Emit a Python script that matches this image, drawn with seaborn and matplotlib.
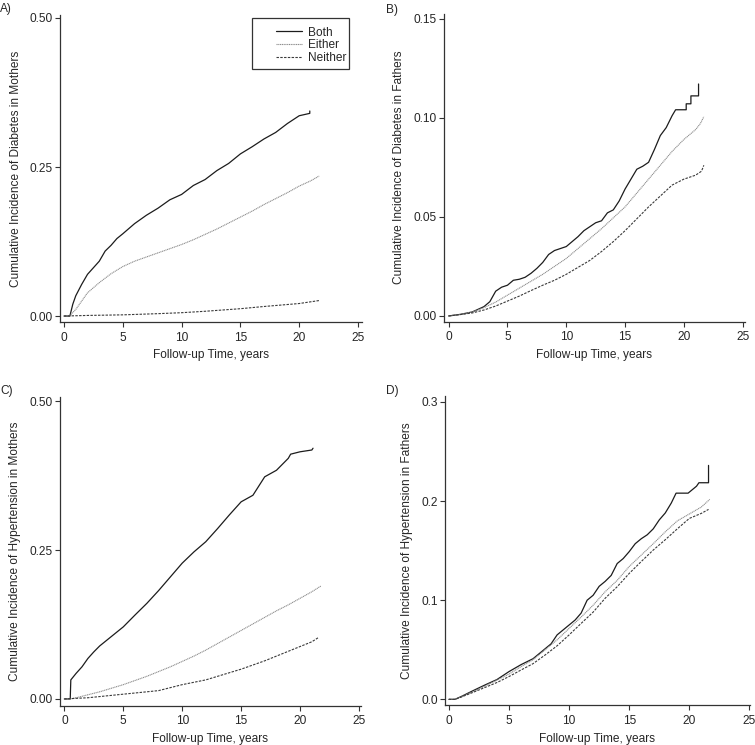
import pandas as pd
import seaborn as sns
from matplotlib import pyplot as plt
from matplotlib.patches import Rectangle
from matplotlib.ticker import FormatStrFormatter

sns.set_style('ticks')
plt.rcParams['font.family'] = ['Liberation Sans', 'DejaVu Sans']

# ---- data (years, cumulative incidence) ----
# A) diabetes, mothers
a_both_t = [0, 0.5, 0.75, 1, 1.5, 2, 2.5, 3, 3.5, 4, 4.5, 5, 6, 7, 8, 9, 10, 11, 12, 13, 14, 15,
            16, 17, 18, 19, 20, 20.9, 20.9]
a_both_y = [0, 0, 0.02, 0.034, 0.053, 0.07, 0.081, 0.092, 0.109, 0.1186, 0.13, 0.138, 0.155,
            0.169, 0.181, 0.195, 0.204, 0.219, 0.229, 0.244, 0.256, 0.272, 0.284, 0.297, 0.308,
            0.323, 0.336, 0.340, 0.344]
a_either_t = [0, 0.5, 1, 1.5, 2, 3, 4, 5, 6, 7, 8, 9, 10, 11, 12, 13, 14, 15, 16, 17, 18, 19, 20,
              21, 21.7]
a_either_y = [0, 0.001, 0.011, 0.025, 0.039, 0.056, 0.071, 0.083, 0.092, 0.099, 0.106, 0.113,
              0.12, 0.128, 0.137, 0.146, 0.156, 0.166, 0.176, 0.187, 0.197, 0.207, 0.218, 0.227,
              0.235]
a_neither_t = [0, 2, 5, 8, 10, 12, 15, 17, 20, 21.7]
a_neither_y = [0, 0.001, 0.002, 0.004, 0.0056, 0.008, 0.0123, 0.016, 0.021, 0.026]

# B) diabetes, fathers
b_both_t = [0, 1, 2, 3, 3.5, 4, 4.5, 5, 5.5, 6, 6.5, 7, 7.5, 8, 8.5, 9, 9.5, 10, 10.5, 11, 11.5,
            12, 12.5, 13, 13.5, 14, 14.5, 15, 15.5, 16, 16.5, 17, 17.5, 18, 18.5, 19, 19.3,
            20.2, 20.2, 20.6, 20.6, 21.25, 21.25]
b_both_y = [0, 0.0008, 0.002, 0.0047, 0.0072, 0.0125, 0.0145, 0.0155, 0.018, 0.0185, 0.0195,
            0.0215, 0.024, 0.027, 0.031, 0.033, 0.034, 0.035, 0.0375, 0.040, 0.043, 0.045,
            0.047, 0.048, 0.052, 0.0535, 0.058, 0.064, 0.069, 0.074, 0.0755, 0.0775, 0.084,
            0.091, 0.095, 0.101, 0.104, 0.104, 0.107, 0.107, 0.111, 0.111, 0.117]
b_either_t = [0, 1, 2, 3, 4, 5, 6, 7, 8, 9, 10, 11, 12, 13, 14, 15, 16, 17, 18, 19, 20, 21,
              21.4, 21.7]
b_either_y = [0, 0.0008, 0.002, 0.0042, 0.007, 0.0105, 0.014, 0.0175, 0.021, 0.025, 0.029,
              0.034, 0.039, 0.044, 0.0495, 0.055, 0.062, 0.069, 0.076, 0.083, 0.089, 0.094,
              0.097, 0.1005]
b_neither_t = [0, 1, 2, 3, 4, 5, 6, 7, 8, 9, 10, 11, 12, 13, 14, 15, 16, 17, 18, 19, 20, 21,
               21.5, 21.7]
b_neither_y = [0, 0.0007, 0.0015, 0.003, 0.005, 0.0075, 0.010, 0.0128, 0.0155, 0.018, 0.021,
               0.0245, 0.028, 0.0325, 0.0375, 0.043, 0.049, 0.055, 0.0605, 0.066, 0.069, 0.071,
               0.073, 0.076]

# C) hypertension, mothers
c_both_t = [0, 0.5, 0.55, 1, 1.5, 2, 2.5, 3, 4, 5, 6, 7, 8, 9, 10, 11, 12, 13, 14, 15, 16, 17,
            18, 18.5, 19, 19.2, 20, 21, 21.1]
c_both_y = [0, 0, 0.032, 0.043, 0.054, 0.068, 0.079, 0.089, 0.105, 0.121, 0.141, 0.1605, 0.182,
            0.205, 0.228, 0.247, 0.264, 0.286, 0.309, 0.331, 0.342, 0.373, 0.384, 0.394, 0.404,
            0.411, 0.415, 0.418, 0.421]
c_either_t = [0, 0.5, 1, 2, 3, 4, 5, 6, 7, 8, 9, 10, 11, 12, 13, 14, 15, 16, 17, 18, 19, 20, 21,
              21.8]
c_either_y = [0, 0, 0.002, 0.007, 0.012, 0.018, 0.024, 0.031, 0.038, 0.046, 0.054, 0.063, 0.072,
              0.082, 0.093, 0.104, 0.115, 0.126, 0.137, 0.148, 0.158, 0.169, 0.180, 0.190]
c_neither_t = [0, 1, 2, 3, 4, 5, 6, 7, 8, 9, 10, 11, 12, 13, 14, 15, 16, 17, 18, 19, 20, 21,
               21.55]
c_neither_y = [0, 0.001, 0.002, 0.004, 0.006, 0.008, 0.010, 0.012, 0.014, 0.019, 0.024, 0.028,
               0.032, 0.038, 0.044, 0.050, 0.057, 0.064, 0.072, 0.080, 0.088, 0.096, 0.103]

# D) hypertension, fathers
d_both_t = [0, 0.5, 1, 2, 3, 4, 5, 6, 7, 8, 8.5, 9, 9.5, 10, 10.5, 11, 11.5, 12, 12.5, 13, 13.5,
            14, 14.5, 15, 15.5, 16, 16.5, 17, 17.5, 18, 18.5, 18.9, 19.9, 20.3, 20.6, 20.8,
            21.6, 21.6]
d_both_y = [0, 0, 0.0027, 0.0087, 0.0145, 0.020, 0.028, 0.035, 0.041, 0.051, 0.056, 0.065,
            0.070, 0.075, 0.080, 0.087, 0.100, 0.105, 0.114, 0.119, 0.125, 0.137, 0.142, 0.149,
            0.157, 0.162, 0.166, 0.172, 0.181, 0.188, 0.198, 0.208, 0.208, 0.212, 0.215,
            0.2185, 0.2185, 0.236]
d_either_t = [0, 0.5, 1, 2, 3, 4, 5, 6, 7, 8, 9, 10, 11, 12, 13, 14, 15, 16, 17, 18, 19, 20, 21,
              21.7]
d_either_y = [0, 0, 0.0025, 0.0077, 0.0134, 0.0195, 0.0255, 0.033, 0.040, 0.050, 0.060, 0.0716,
              0.083, 0.095, 0.1086, 0.120, 0.134, 0.1455, 0.157, 0.169, 0.180, 0.187, 0.194,
              0.2017]
d_neither_t = [0, 0.5, 1, 2, 3, 4, 5, 6, 7, 8, 9, 10, 11, 12, 13, 14, 15, 16, 17, 18, 19, 20,
               21, 21.6]
d_neither_y = [0, 0, 0.0022, 0.007, 0.012, 0.017, 0.023, 0.0296, 0.036, 0.0447, 0.054, 0.065,
               0.0766, 0.088, 0.102, 0.1136, 0.127, 0.139, 0.1506, 0.161, 0.172, 0.1825, 0.1876,
               0.1916]

groups = ['Both', 'Either', 'Neither']
styles = {
    'Both': dict(color='#1c1c1c', linestyle='-', linewidth=0.9),
    'Either': dict(color='#8a8a8a', linestyle=(0, (1, 0.6)), linewidth=0.8),
    'Neither': dict(color='#3a3a3a', linestyle=(0, (2.2, 1.2)), linewidth=0.8),
}

panels = [
    dict(tag='A)', ylabel='Cumulative Incidence of Diabetes in Mothers',
         series=[(a_both_t, a_both_y), (a_either_t, a_either_y), (a_neither_t, a_neither_y)],
         yticks=[0, 0.25, 0.5], fmt='%.2f', px=(60, 15, 362, 322),
         xlim=(-0.34, 25.34), ylim=(-0.010, 0.505), tagpos=(0, 3)),
    dict(tag='B)', ylabel='Cumulative Incidence of Diabetes in Fathers',
         series=[(b_both_t, b_both_y), (b_either_t, b_either_y), (b_neither_t, b_neither_y)],
         yticks=[0, 0.05, 0.10, 0.15], fmt='%.2f', px=(443.5, 14, 745, 321.5),
         xlim=(-0.44, 25.2), ylim=(-0.0028, 0.1523), tagpos=(386, 3.5)),
    dict(tag='C)', ylabel='Cumulative Incidence of Hypertension in Mothers',
         series=[(c_both_t, c_both_y), (c_either_t, c_either_y), (c_neither_t, c_neither_y)],
         yticks=[0, 0.25, 0.5], fmt='%.2f', px=(59.5, 397, 361, 705.5),
         xlim=(-0.41, 25.17), ylim=(-0.011, 0.507), tagpos=(0, 385)),
    dict(tag='D)', ylabel='Cumulative Incidence of Hypertension in Fathers',
         series=[(d_both_t, d_both_y), (d_either_t, d_either_y), (d_neither_t, d_neither_y)],
         yticks=[0, 0.1, 0.2, 0.3], fmt='%.1f', px=(444.7, 396, 750, 705.3),
         xlim=(-0.35, 25.05), ylim=(-0.006, 0.306), tagpos=(386, 384.5)),
]

W, H = 755, 745
fig = plt.figure(figsize=(W / 100, H / 100), dpi=100)
fs = 8.6
spine_col = '#333333'

for i, p in enumerate(panels):
    x0, y0, x1, y1 = p['px']
    ax = fig.add_axes([x0 / W, 1 - y1 / H, (x1 - x0) / W, (y1 - y0) / H])
    for g, (t, y) in zip(groups, p['series']):
        df = pd.DataFrame({'time': t, 'inc': y})
        sns.lineplot(data=df, x='time', y='inc', ax=ax, estimator=None, sort=False,
                     label=g, **styles[g])
    ax.set_xlim(*p['xlim'])
    ax.set_ylim(*p['ylim'])
    ax.set_xticks([0, 5, 10, 15, 20, 25])
    ax.set_yticks(p['yticks'])
    ax.yaxis.set_major_formatter(FormatStrFormatter(p['fmt']))
    ax.set_xlabel('Follow-up Time, years', fontsize=fs, labelpad=4)
    ax.set_ylabel(p['ylabel'], fontsize=fs, labelpad=6)
    ax.tick_params(axis='both', labelsize=fs, length=3.5, width=0.8, color=spine_col)
    ax.tick_params(axis='x', pad=3.5)
    ax.tick_params(axis='y', pad=1.5)
    sns.despine(ax=ax)
    for s in ('left', 'bottom'):
        ax.spines[s].set_color(spine_col)
        ax.spines[s].set_linewidth(0.9)
    fig.text(p['tagpos'][0] / W, 1 - p['tagpos'][1] / H, p['tag'], fontsize=fs,
             ha='left', va='top')
    if i == 0:
        ax.legend(loc='upper left', bbox_to_anchor=(0.715, 0.962), frameon=False,
                  borderpad=0, borderaxespad=0, fontsize=fs, handlelength=2.2,
                  handletextpad=0.5, labelspacing=0.05)
        ax.add_patch(Rectangle((0.637, 0.823), 0.321, 0.166, transform=ax.transAxes,
                               fill=False, edgecolor='#333333', linewidth=0.9,
                               clip_on=False))
    else:
        ax.get_legend().remove()

fig.savefig('out.png', dpi=100)
